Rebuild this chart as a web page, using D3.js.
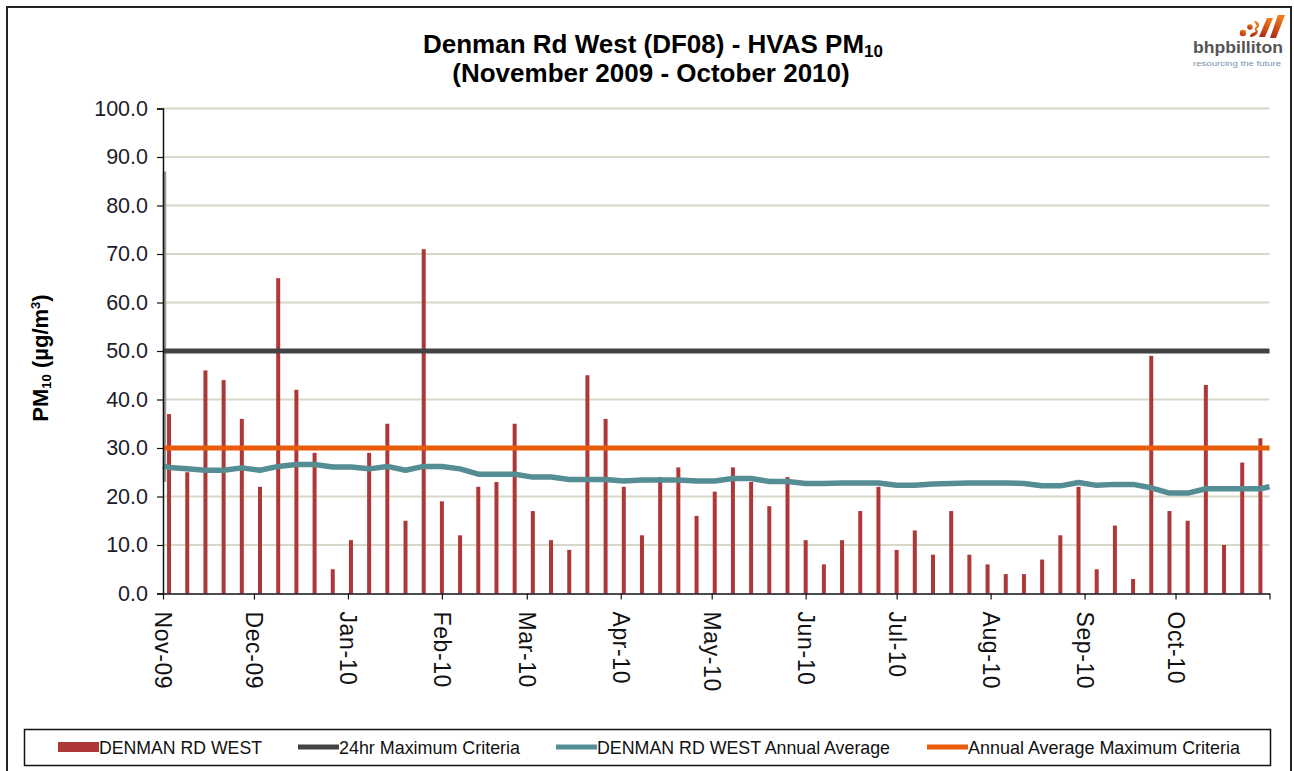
<!DOCTYPE html>
<html>
<head>
<meta charset="utf-8">
<script src="https://cdn.jsdelivr.net/npm/d3@7"></script>
<style>
body { margin: 0; background: #fff; }
svg { display: block; }
</style>
</head>
<body>
<script>
// HVAS samples (one every sixth day)
const sampleDates = [
  "2009-11-03", "2009-11-09", "2009-11-15", "2009-11-21", "2009-11-27",
  "2009-12-03", "2009-12-09", "2009-12-15", "2009-12-21", "2009-12-27",
  "2010-01-02", "2010-01-08", "2010-01-14", "2010-01-20", "2010-01-26",
  "2010-02-01", "2010-02-07", "2010-02-13", "2010-02-19", "2010-02-25",
  "2010-03-03", "2010-03-09", "2010-03-15", "2010-03-21", "2010-03-27",
  "2010-04-02", "2010-04-08", "2010-04-14", "2010-04-20", "2010-04-26",
  "2010-05-02", "2010-05-08", "2010-05-14", "2010-05-20", "2010-05-26",
  "2010-06-01", "2010-06-07", "2010-06-13", "2010-06-19", "2010-06-25",
  "2010-07-01", "2010-07-07", "2010-07-13", "2010-07-19", "2010-07-25", "2010-07-31",
  "2010-08-06", "2010-08-12", "2010-08-18", "2010-08-24", "2010-08-30",
  "2010-09-05", "2010-09-11", "2010-09-17", "2010-09-23", "2010-09-29",
  "2010-10-05", "2010-10-11", "2010-10-17", "2010-10-23", "2010-10-29"
];

const pm10 = [
  37, 25, 46, 44, 36,
  22, 65, 42, 29, 5,
  11, 29, 35, 15, 71,
  19, 12, 22, 23, 35,
  17, 11, 9, 45, 36,
  22, 12, 24, 26, 16,
  21, 26, 23, 18, 24,
  11, 6, 11, 17, 22,
  9, 13, 8, 17, 8, 6,
  4, 4, 7, 12, 22,
  5, 14, 3, 49, 17,
  15, 43, 10, 27, 32
];

// rolling annual average, read at each sample plus the two axis ends
const avgDates = ["2009-11-01"].concat(sampleDates, ["2010-11-01"]);
const annualAvg = [
  26.3,
  26.0, 25.7, 25.4, 25.4, 25.9,
  25.4, 26.2, 26.6, 26.6, 26.1,
  26.1, 25.7, 26.2, 25.4, 26.2,
  26.2, 25.7, 24.6, 24.6, 24.6,
  24.0, 24.0, 23.5, 23.5, 23.5,
  23.2, 23.4, 23.4, 23.4, 23.2,
  23.2, 23.7, 23.7, 23.1, 23.1,
  22.7, 22.7, 22.8, 22.8, 22.8,
  22.3, 22.3, 22.6, 22.7, 22.8, 22.8,
  22.8, 22.7, 22.2, 22.2, 22.9,
  22.3, 22.5, 22.5, 21.8, 20.7,
  20.7, 21.6, 21.6, 21.6, 21.6,
  22.0
];

const criteria24hr = 50;
const criteriaAnnual = 30;
const leftEdgeTrace = [87, 23];

const yTicks = [0, 10, 20, 30, 40, 50, 60, 70, 80, 90, 100];
const monthTicks = [
  "2009-11-01", "2009-12-01", "2010-01-01", "2010-02-01", "2010-03-01", "2010-04-01",
  "2010-05-01", "2010-06-01", "2010-07-01", "2010-08-01", "2010-09-01", "2010-10-01"
];
const axisEnd = ["2009-11-01", "2010-11-01"];

const legendLabels = [
  "DENMAN RD WEST",
  "24hr Maximum Criteria",
  "DENMAN RD WEST Annual Average",
  "Annual Average Maximum Criteria"
];

const parse = d3.timeParse("%Y-%m-%d");
const barColor = "#ae3838";
const darkColor = "#434343";
const tealColor = "#548d94";
const orangeColor = "#ea5a0b";

const W = 1294, H = 771;
const plot = { left: 163, right: 1269.5, top: 108.5, bottom: 593.5 };

const svg = d3.select("body").append("svg")
    .attr("width", W)
    .attr("height", H)
    .style("font-family", "'Liberation Sans', Arial, sans-serif");

// outer frame
svg.append("rect")
    .attr("x", 7).attr("y", 7)
    .attr("width", 1284).attr("height", 800)
    .attr("fill", "#fff")
    .attr("stroke", "#222")
    .attr("stroke-width", 2);

const x = d3.scaleTime()
    .domain(axisEnd.map(parse))
    .range([plot.left, plot.right]);

const y = d3.scaleLinear()
    .domain([0, 100])
    .range([plot.bottom, plot.top]);

// gridlines
svg.append("g")
    .selectAll("line")
    .data(yTicks.filter(d => d > 0))
    .join("line")
    .attr("x1", plot.left).attr("x2", plot.right)
    .attr("y1", d => y(d)).attr("y2", d => y(d))
    .attr("stroke", "#d8d8ca")
    .attr("stroke-width", 2);

// faint trace on the left edge
svg.append("line")
    .attr("x1", plot.left + 1.5).attr("x2", plot.left + 1.5)
    .attr("y1", y(leftEdgeTrace[0])).attr("y2", y(leftEdgeTrace[1]))
    .attr("stroke", "#9a9a9a")
    .attr("stroke-width", 3.5);

// bars
const barW = 4;
svg.append("g")
    .selectAll("rect")
    .data(pm10)
    .join("rect")
    .attr("x", (d, i) => x(parse(sampleDates[i])) - barW / 2)
    .attr("y", d => y(d))
    .attr("width", barW)
    .attr("height", d => y(0) - y(d))
    .attr("fill", barColor);

// criteria lines
svg.append("line")
    .attr("x1", plot.left).attr("x2", plot.right)
    .attr("y1", y(criteria24hr)).attr("y2", y(criteria24hr))
    .attr("stroke", darkColor)
    .attr("stroke-width", 5);

svg.append("line")
    .attr("x1", plot.left).attr("x2", plot.right)
    .attr("y1", y(criteriaAnnual)).attr("y2", y(criteriaAnnual))
    .attr("stroke", orangeColor)
    .attr("stroke-width", 5);

// annual average
const avgLine = d3.line()
    .x((d, i) => x(parse(avgDates[i])))
    .y(d => y(d));

svg.append("path")
    .datum(annualAvg)
    .attr("d", avgLine)
    .attr("fill", "none")
    .attr("stroke", tealColor)
    .attr("stroke-width", 5.5)
    .attr("stroke-linejoin", "round");

// y axis
const yAxis = svg.append("g")
    .attr("transform", `translate(${plot.left},0)`)
    .call(d3.axisLeft(y).tickValues(yTicks).tickFormat(d3.format(".1f")).tickSize(6).tickPadding(9));
yAxis.select(".domain").attr("stroke", "#111").attr("stroke-width", 1.5);
yAxis.selectAll(".tick line").attr("stroke", "#111").attr("stroke-width", 1.2);
yAxis.selectAll("text")
    .attr("fill", "#1c1c2a")
    .style("font-size", "21.5px")
    .style("font-family", "'Liberation Sans', Arial, sans-serif");

// x axis
const xAxis = svg.append("g")
    .attr("transform", `translate(0,${plot.bottom})`)
    .call(d3.axisBottom(x)
        .tickValues(monthTicks.map(parse).concat([parse(axisEnd[1])]))
        .tickFormat(d => d >= parse(axisEnd[1]) ? "" : d3.timeFormat("%b-%y")(d))
        .tickSize(6).tickSizeOuter(0));
xAxis.select(".domain").attr("stroke", "#111").attr("stroke-width", 1.5);
xAxis.selectAll(".tick line").attr("stroke", "#111").attr("stroke-width", 1.2);
xAxis.selectAll("text")
    .attr("transform", "rotate(90)")
    .attr("x", 18).attr("y", 0).attr("dy", "0.35em")
    .attr("text-anchor", "start")
    .attr("fill", "#111")
    .style("font-size", "23px")
    .style("letter-spacing", "0.6px")
    .style("font-family", "'Liberation Sans', Arial, sans-serif");

// y axis title
const yTitle = svg.append("text")
    .attr("transform", "translate(48,358) rotate(-90)")
    .attr("text-anchor", "middle")
    .attr("font-weight", "bold")
    .attr("font-size", 22)
    .attr("fill", "#000");
yTitle.append("tspan").text("PM");
yTitle.append("tspan").text("10").attr("font-size", 13).attr("dy", 3);
yTitle.append("tspan").text(" (µg/m").attr("dy", -3);
yTitle.append("tspan").text("3").attr("font-size", 13).attr("dy", -8);
yTitle.append("tspan").text(")").attr("dy", 8);

// chart title
const title1 = svg.append("text")
    .attr("x", 653).attr("y", 53)
    .attr("text-anchor", "middle")
    .attr("font-weight", "bold")
    .attr("font-size", 26)
    .attr("fill", "#000");
title1.append("tspan").text("Denman Rd West (DF08) - HVAS PM");
title1.append("tspan").text("10").attr("font-size", 17).attr("dy", 4);

svg.append("text")
    .attr("x", 651).attr("y", 82)
    .attr("text-anchor", "middle")
    .attr("font-weight", "bold")
    .attr("font-size", 26)
    .attr("fill", "#000")
    .text("(November 2009 - October 2010)");

// logo
const logo = svg.append("g");
const grad = svg.append("defs").append("linearGradient")
    .attr("id", "bhp").attr("x1", 0).attr("y1", 1).attr("x2", 0.6).attr("y2", 0);
grad.append("stop").attr("offset", 0).attr("stop-color", "#a3241a");
grad.append("stop").attr("offset", 1).attr("stop-color", "#f07a1a");
logo.append("circle").attr("cx", 1243).attr("cy", 33).attr("r", 3.2).attr("fill", "url(#bhp)");
logo.append("circle").attr("cx", 1250).attr("cy", 27).attr("r", 2.8).attr("fill", "url(#bhp)");
logo.append("path").attr("d", "M1250,37 C1257,37 1260,31 1256,29 C1261,27 1260,21 1254,21 L1257,26 C1255,27 1254,30 1256,31 C1254,33 1250,33 1250,37 Z").attr("fill", "url(#bhp)");
logo.append("path").attr("d", "M1259,37 L1265,37 L1273,18 L1267,18 Z").attr("fill", "url(#bhp)");
logo.append("path").attr("d", "M1270,38 L1276,38 L1285,15 L1278,15 Z").attr("fill", "url(#bhp)");
logo.append("text")
    .attr("x", 1193).attr("y", 53)
    .attr("font-size", 16)
    .attr("font-weight", "bold")
    .attr("textLength", 90)
    .attr("lengthAdjust", "spacingAndGlyphs")
    .attr("fill", "#555")
    .text("bhpbilliton");
logo.append("text")
    .attr("x", 1193).attr("y", 66)
    .attr("font-size", 8)
    .attr("textLength", 88)
    .attr("lengthAdjust", "spacingAndGlyphs")
    .attr("fill", "#7b8fae")
    .text("resourcing the future");

// legend
svg.append("rect")
    .attr("x", 24.5).attr("y", 729.5)
    .attr("width", 1246).attr("height", 36)
    .attr("fill", "#fff")
    .attr("stroke", "#111")
    .attr("stroke-width", 1.5);

const legendX = d3.scaleOrdinal()
    .domain(legendLabels)
    .range([58, 298, 556, 927]);
const legendTextLen = d3.scaleOrdinal()
    .domain(legendLabels)
    .range([163, 181, 293, 272]);
const legendColors = [barColor, darkColor, tealColor, orangeColor];

const legendItem = svg.append("g")
    .selectAll("g")
    .data(legendLabels)
    .join("g")
    .attr("transform", d => `translate(${legendX(d)},747)`);

legendItem.each(function (d, i) {
    const g = d3.select(this);
    if (i === 0) {
        g.append("rect").attr("x", 0).attr("y", -5).attr("width", 41).attr("height", 10).attr("fill", legendColors[i]);
    } else {
        g.append("line").attr("x1", 0).attr("x2", 41).attr("y1", 0).attr("y2", 0)
            .attr("stroke", legendColors[i]).attr("stroke-width", 5);
    }
    g.append("text")
        .attr("x", 41).attr("y", 7)
        .attr("font-size", 19)
        .attr("textLength", legendTextLen(d))
        .attr("lengthAdjust", "spacingAndGlyphs")
        .attr("fill", "#111")
        .text(d);
});
</script>
</body>
</html>
